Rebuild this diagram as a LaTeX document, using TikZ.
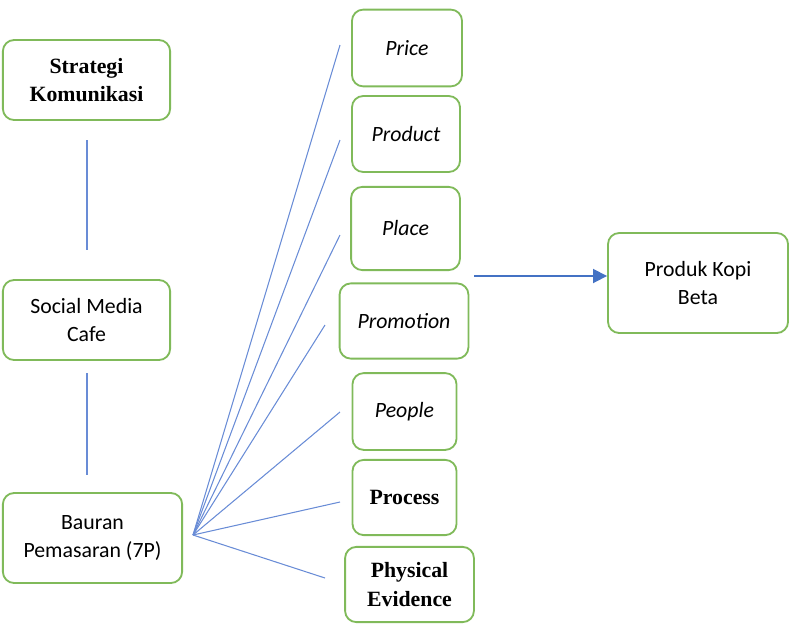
\documentclass[tikz,border=0pt]{standalone}
\usepackage{fontspec}
\setmainfont{Carlito}
\newfontfamily\timesfont{Liberation Serif}
\usetikzlibrary{positioning, arrows.meta, calc}
\definecolor{boxgreen}{RGB}{128,186,90}
\definecolor{lineblue}{RGB}{105,140,214}
\definecolor{arrowblue}{RGB}{68,114,196}

\begin{document}
\begin{tikzpicture}[x=0.025cm, y=-0.025cm,
    kotak/.style={draw=boxgreen, line width=1.3pt, rounded corners=8pt, align=center,
      inner sep=0pt, font=\fontsize{15.5}{20}\selectfont},
    kotakb/.style={kotak, font=\timesfont\bfseries\fontsize{15.5}{20}\selectfont},
    garis/.style={lineblue, line width=0.75pt}]
    \useasboundingbox (0,0) rectangle (795,626);
    % Kolom kiri
    \node[kotakb, minimum width=4.18cm, minimum height=2cm] (strat) at (86.5,80) {Strategi\\Komunikasi};
    \node[kotak, minimum width=4.18cm, minimum height=2cm] (social) at (86.5,320) {Social Media\\Cafe};
    \node[kotak, minimum width=4.48cm, minimum height=2.25cm] (bauran) at (92.5,538) {Bauran\\Pemasaran (7P)};
    % Unsur 7P
    \node[kotak, minimum width=2.75cm, minimum height=1.92cm] (price) at (407,48) {\itshape Price};
    \node[kotak, minimum width=2.7cm, minimum height=1.9cm] (product) at (406,134) {\itshape Product};
    \node[kotak, minimum width=2.72cm, minimum height=2.08cm] (place) at (405.5,228.5) {\itshape Place};
    \node[kotak, minimum width=3.22cm, minimum height=1.88cm] (promotion) at (404,321) {\itshape Promotion};
    \node[kotak, minimum width=2.6cm, minimum height=1.92cm] (people) at (404.5,411.5) {\itshape People};
    \node[kotakb, minimum width=2.6cm, minimum height=1.88cm] (process) at (404.5,497.5) {Process};
    \node[kotakb, minimum width=3.22cm, minimum height=1.88cm] (physical) at (409.5,584.5) {Physical\\Evidence};
    % Hasil
    \node[kotak, minimum width=4.5cm, minimum height=2.5cm] (produk) at (698,283) {Produk Kopi\\Beta};
    % Garis penghubung vertikal
    \coordinate (v1) at (87,140); \coordinate (v2) at (87,250);
    \coordinate (v3) at (87,373); \coordinate (v4) at (87,475);
    \draw[garis] (v1) -- (v2);
    \draw[garis] (v3) -- (v4);
    % Garis kipas dari bauran pemasaran
    \coordinate (pusat) at (193,535);
    \coordinate (u-price) at (340,45);
    \coordinate (u-product) at (340,140);
    \coordinate (u-place) at (340,235);
    \coordinate (u-promotion) at (325,325);
    \coordinate (u-people) at (340,412);
    \coordinate (u-process) at (340,502);
    \coordinate (u-physical) at (325,578);
    \foreach \u in {price, product, place, promotion, people, process, physical}
      \draw[garis] (pusat) -- (u-\u);
    % Panah ke produk
    \coordinate (panah) at (474,276);
    \draw[-{Triangle[length=10pt, width=10pt]}, arrowblue, line width=1.2pt] (panah) -- (panah -| produk.west);
\end{tikzpicture}
\end{document}
